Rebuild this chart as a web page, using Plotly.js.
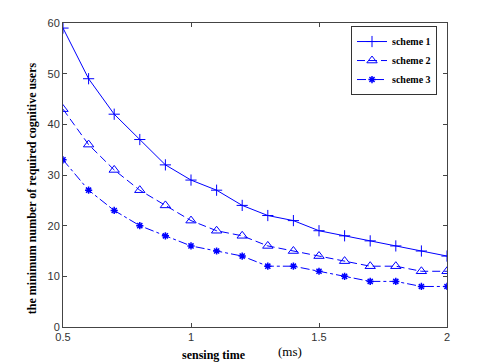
<!DOCTYPE html>
<html>
<head>
<meta charset="utf-8">
<script src="https://cdn.plot.ly/plotly-3.0.1.min.js"></script>
<style>
  body { margin: 0; background: #fff; }
  #chart { width: 480px; height: 362px; }
</style>
</head>
<body>
<div id="chart"></div>
<script>
const sensingTime = [0.5, 0.6, 0.7, 0.8, 0.9, 1.0, 1.1, 1.2, 1.3, 1.4, 1.5, 1.6, 1.7, 1.8, 1.9, 2.0];
const scheme1 = [59, 49, 42, 37, 32, 29, 27, 24, 22, 21, 19, 18, 17, 16, 15, 14];
const scheme2 = [43, 36, 31, 27, 24, 21, 19, 18, 16, 15, 14, 13, 12, 12, 11, 11];
const scheme3 = [33, 27, 23, 20, 18, 16, 15, 14, 12, 12, 11, 10, 9, 9, 8, 8];
const seriesNames = ["scheme 1", "scheme 2", "scheme 3"];

const blue = "rgb(0,0,255)";

const data = [
    {
        x: sensingTime, y: scheme1, name: seriesNames[0],
        type: "scatter", mode: "lines+markers",
        line: { color: blue, width: 1, dash: "solid" },
        marker: { symbol: "cross-thin-open", size: 8, color: blue, line: { color: blue, width: 1 } }
    },
    {
        x: sensingTime, y: scheme2, name: seriesNames[1],
        type: "scatter", mode: "lines+markers",
        line: { color: blue, width: 1, dash: "8px,4px" },
        marker: { symbol: "triangle-up-open", size: 9, color: blue, line: { color: blue, width: 1 } }
    },
    {
        x: sensingTime, y: scheme3, name: seriesNames[2],
        type: "scatter", mode: "lines+markers",
        line: { color: blue, width: 1, dash: "dashdot" },
        marker: { symbol: "asterisk-open", size: 6, color: blue, line: { color: blue, width: 1.5 } }
    }
];

const axisStyle = {
    showline: true, linecolor: "#444", linewidth: 1, mirror: "ticks",
    ticks: "inside", ticklen: 4, tickcolor: "#444",
    showgrid: false, zeroline: false,
    tickfont: { family: "Arial, Liberation Sans, sans-serif", size: 11, color: "#333" }
};

const layout = {
    width: 480, height: 362,
    margin: { l: 63, r: 33, t: 23, b: 35 },
    paper_bgcolor: "#fff", plot_bgcolor: "#fff",
    showlegend: true,
    xaxis: Object.assign({}, axisStyle, {
        range: [0.5, 2], tickvals: [0.5, 1, 1.5, 2], ticktext: ["0.5", "1", "1.5", "2"]
    }),
    yaxis: Object.assign({}, axisStyle, {
        range: [0, 60], dtick: 10
    }),
    legend: {
        x: 0.75, y: 0.99, xanchor: "left", yanchor: "top",
        bgcolor: "#fff", bordercolor: "#333", borderwidth: 1,
        font: { family: "Liberation Serif, Times New Roman, serif", size: 10, color: "#000", weight: "bold" },
        tracegroupgap: 0, itemwidth: 30
    },
    annotations: [
        {
            text: "<b>sensing time</b>", xref: "paper", yref: "paper",
            x: 0.305, y: -0.062, xanchor: "left", yanchor: "top", showarrow: false,
            font: { family: "Liberation Serif, Times New Roman, serif", size: 12, color: "#000" }
        },
        {
            text: "(ms)", xref: "paper", yref: "paper",
            x: 0.555, y: -0.048, xanchor: "left", yanchor: "top", showarrow: false,
            font: { family: "Liberation Serif, Times New Roman, serif", size: 13, color: "#000" }
        },
        {
            text: "<b>the minimum number of required cognitive users</b>", xref: "paper", yref: "paper",
            x: -0.082, y: 0.455, xanchor: "center", yanchor: "middle", textangle: -90, showarrow: false,
            font: { family: "Liberation Serif, Times New Roman, serif", size: 12, color: "#000" }
        }
    ]
};

Plotly.newPlot("chart", data, layout, { displayModeBar: false });
</script>
</body>
</html>
